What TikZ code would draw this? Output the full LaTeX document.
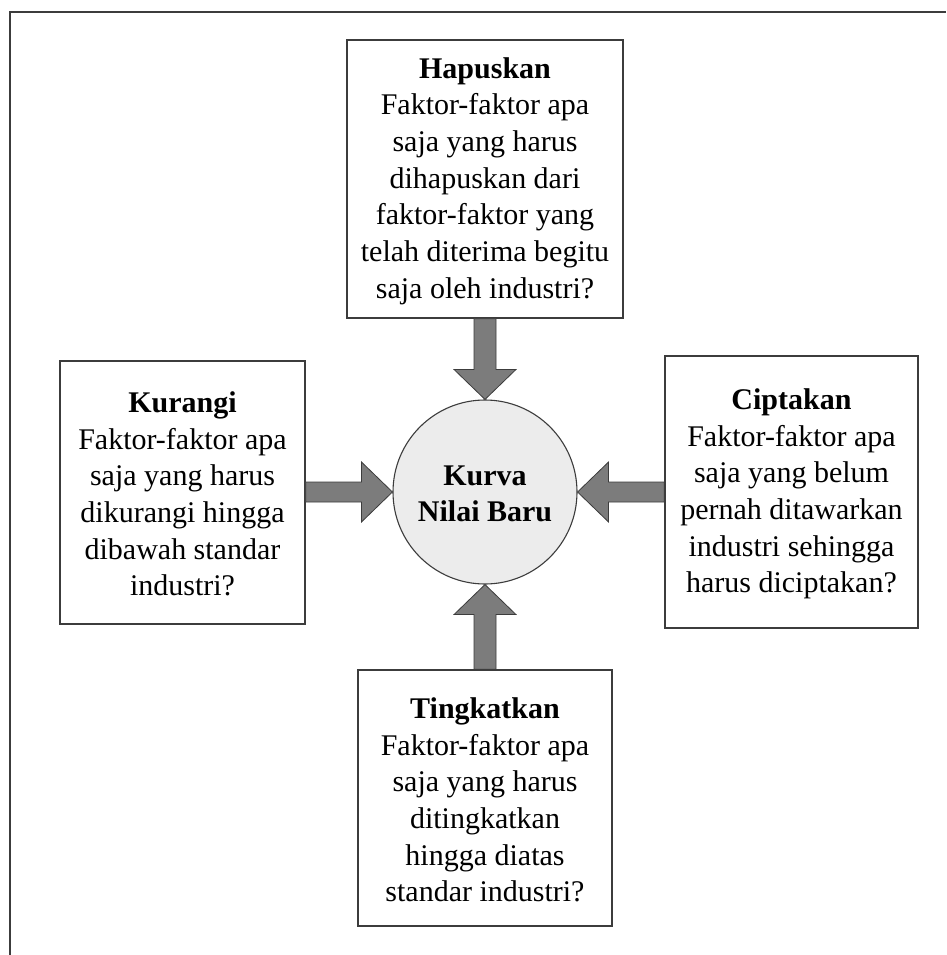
\documentclass[tikz,border=0pt]{standalone}
\usepackage{fontspec}
\setmainfont{Liberation Serif}
\usetikzlibrary{calc}
\definecolor{linegray}{HTML}{3C3C3C}
\definecolor{arrowgray}{HTML}{7C7C7C}
\definecolor{circlegray}{HTML}{ECECEC}
\tikzset{
  txt/.style={font=\fontsize{30}{36.7}\selectfont, align=center, inner sep=0pt},
  qbox/.style={draw=linegray, line width=1.3pt, fill=white, rectangle},
  hub/.style={circle, draw=linegray, line width=1.1pt, fill=circlegray, minimum size=184pt, inner sep=0pt},
  barrow/.style={fill=arrowgray, draw=linegray, line width=0.8pt, line join=miter},
  frameline/.style={draw=linegray, line width=1.2pt}
}
\begin{document}
\begin{tikzpicture}[x=1pt, y=-1pt]
\useasboundingbox (0,0) rectangle (946,955);
% outer frame (top and left edges only)
\coordinate (fbl) at (10,955);
\coordinate (ftl) at (10,12);
\coordinate (ftr) at (946,12);
\draw[frameline] (fbl) -- (ftl) -- (ftr);

% boxes
\node[qbox, minimum width=276pt, minimum height=278pt] (top) at (485,179) {};
\node[txt] (toptxt) at (485,181) {\textbf{Hapuskan}\\Faktor-faktor apa\\saja yang harus\\dihapuskan dari\\faktor-faktor yang\\telah diterima begitu\\saja oleh industri?};

\node[qbox, minimum width=245pt, minimum height=263pt] (left) at (182.5,492.5) {};
\node[txt] (lefttxt) at (182.5,494) {\textbf{Kurangi}\\Faktor-faktor apa\\saja yang harus\\dikurangi hingga\\dibawah standar\\industri?};

\node[qbox, minimum width=253pt, minimum height=272pt] (right) at (791.5,492) {};
\node[txt] (righttxt) at (791.5,494) {\textbf{Ciptakan}\\Faktor-faktor apa\\saja yang belum\\pernah ditawarkan\\industri sehingga\\harus diciptakan?};

\node[qbox, minimum width=254pt, minimum height=256pt] (bottom) at (485,798) {};
\node[txt] (bottomtxt) at (485,800) {\textbf{Tingkatkan}\\Faktor-faktor apa\\saja yang harus\\ditingkatkan\\hingga diatas\\standar industri?};

% hub
\node[hub] (c) at (485,492) {};
\node[txt, font=\fontsize{30}{36.7}\selectfont\bfseries] (ctxt) at (485,494) {Kurva\\Nilai Baru};

% block arrows
\draw[barrow] ($(top.south)+(-11,0)$) -- ($(c.north)+(-11,-30)$) -- ($(c.north)+(-31,-30)$) -- (c.north)
  -- ($(c.north)+(31,-30)$) -- ($(c.north)+(11,-30)$) -- ($(top.south)+(11,0)$) -- cycle;

\draw[barrow] ($(bottom.north)+(-11,0)$) -- ($(c.south)+(-11,30)$) -- ($(c.south)+(-31,30)$) -- (c.south)
  -- ($(c.south)+(31,30)$) -- ($(c.south)+(11,30)$) -- ($(bottom.north)+(11,0)$) -- cycle;

\draw[barrow] ($(c.west -| left.east)+(0,-10)$) -- ($(c.west)+(-31,-10)$) -- ($(c.west)+(-31,-30)$) -- (c.west)
  -- ($(c.west)+(-31,30)$) -- ($(c.west)+(-31,10)$) -- ($(c.west -| left.east)+(0,10)$) -- cycle;

\draw[barrow] ($(c.east -| right.west)+(0,-10)$) -- ($(c.east)+(31,-10)$) -- ($(c.east)+(31,-30)$) -- (c.east)
  -- ($(c.east)+(31,30)$) -- ($(c.east)+(31,10)$) -- ($(c.east -| right.west)+(0,10)$) -- cycle;
\end{tikzpicture}
\end{document}
